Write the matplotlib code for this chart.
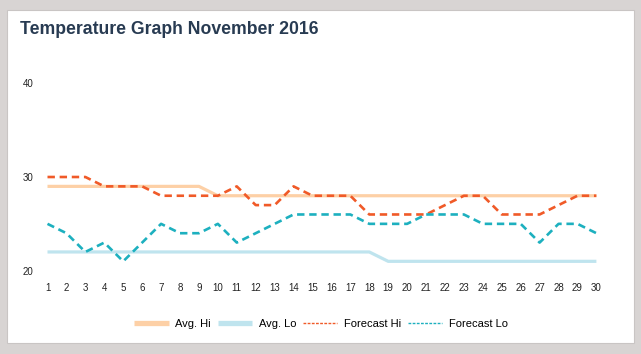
import matplotlib
matplotlib.use("Agg")
import matplotlib.pyplot as plt
from matplotlib.patches import Rectangle
from matplotlib.lines import Line2D

# data
days = list(range(1, 31))
avg_hi = [29, 29, 29, 29, 29, 29, 29, 29, 29, 28, 28, 28, 28, 28, 28,
          28, 28, 28, 28, 28, 28, 28, 28, 28, 28, 28, 28, 28, 28, 28]
avg_lo = [22, 22, 22, 22, 22, 22, 22, 22, 22, 22, 22, 22, 22, 22, 22,
          22, 22, 22, 21, 21, 21, 21, 21, 21, 21, 21, 21, 21, 21, 21]
forecast_hi = [30, 30, 30, 29, 29, 29, 28, 28, 28, 28, 29, 27, 27, 29, 28,
               28, 28, 26, 26, 26, 26, 27, 28, 28, 26, 26, 26, 27, 28, 28]
forecast_lo = [25, 24, 22, 23, 21, 23, 25, 24, 24, 25, 23, 24, 25, 26, 26,
               26, 26, 25, 25, 25, 26, 26, 26, 25, 25, 25, 23, 25, 25, 24]
y_ticks = [20, 30, 40]

W, H = 641, 354
c_hi = "#fdd0a6"
c_lo = "#bfe4ee"
c_fhi = "#f05a28"
c_flo = "#1db0bf"

fig = plt.figure(figsize=(W / 100, H / 100), dpi=100)
fig.patch.set_facecolor("#d8d4d3")

# white card behind everything
card = Rectangle((7 / W, 1 - 343 / H), (634 - 7) / W, (343 - 10) / H,
                 transform=fig.transFigure, facecolor="white",
                 edgecolor="#c9c5c4", linewidth=0.8, zorder=-10)
fig.patches.append(card)

fig.text(20 / W, 1 - 30 / H, "Temperature Graph November 2016",
         fontsize=12.7, fontweight="bold", color="#283b52",
         family="Liberation Sans", va="center", ha="left")

# axes placed so that day 1 / day 30 and 20 / 40 land where the reference has them
left, right = 47.5 / W, 596.4 / W
bottom, top = 1 - 270.7 / H, 1 - 83.3 / H
ax = fig.add_axes([left, bottom, right - left, top - bottom])
ax.set_facecolor("none")
ax.set_xlim(1, 30)
ax.set_ylim(20, 40)

ax.plot(days, avg_hi, color=c_hi, lw=2.3, solid_capstyle="butt", clip_on=False)
ax.plot(days, avg_lo, color=c_lo, lw=2.3, solid_capstyle="butt", clip_on=False)
ax.plot(days, forecast_hi, color=c_fhi, lw=1.9, dashes=(2.8, 1.8), clip_on=False)
ax.plot(days, forecast_lo, color=c_flo, lw=1.9, dashes=(2.8, 1.8), clip_on=False)

for s in ax.spines.values():
    s.set_visible(False)
ax.set_xticks(days)
ax.set_xticklabels([str(d) for d in days])
ax.set_yticks(y_ticks)
ax.tick_params(length=0, labelsize=7, colors="#222222")
ax.tick_params(axis="y", pad=10)
ax.tick_params(axis="x", pad=8.5)
for lab in ax.get_xticklabels() + ax.get_yticklabels():
    lab.set_family("Liberation Sans")

handles = [
    Line2D([], [], color=c_hi, lw=3.8, solid_capstyle="butt"),
    Line2D([], [], color=c_lo, lw=3.8, solid_capstyle="butt"),
    Line2D([], [], color=c_fhi, lw=1, dashes=(2, 1)),
    Line2D([], [], color=c_flo, lw=1, dashes=(2, 1)),
]
labels = ["Avg. Hi", "Avg. Lo", "Forecast Hi", "Forecast Lo"]
fig.legend(handles, labels, loc="center", ncol=4,
           bbox_to_anchor=(321 / W, 1 - 324 / H), frameon=False,
           prop={"family": "Liberation Sans", "size": 8},
           handlelength=3.1, handletextpad=0.6, columnspacing=0.6,
           borderpad=0)

fig.savefig("out.png", dpi=100, facecolor=fig.get_facecolor())
